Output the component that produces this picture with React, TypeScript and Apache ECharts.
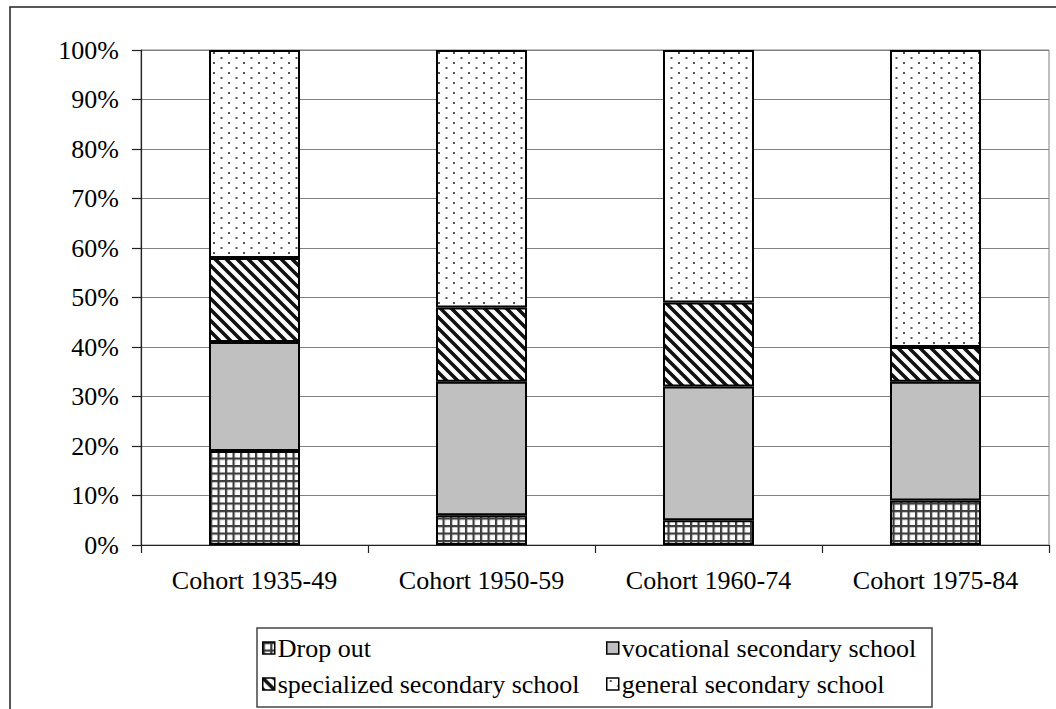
import React, { useEffect, useRef } from "react";
import * as echarts from "echarts";

const categories = ["Cohort 1935-49", "Cohort 1950-59", "Cohort 1960-74", "Cohort 1975-84"];
const dropOut = [19, 6, 5, 9];
const vocational = [22, 27, 27, 24];
const specialized = [17, 15, 17, 7];
const general = [42, 52, 51, 60];
const seriesNames = [
  "Drop out",
  "vocational secondary school",
  "specialized secondary school",
  "general secondary school",
];
const yTicks = [0, 10, 20, 30, 40, 50, 60, 70, 80, 90, 100];

const FONT = "Liberation Serif";

const svgUrl = (s: string) => "data:image/svg+xml;charset=utf-8," + encodeURIComponent(s);

const gridPattern = {
  image: svgUrl(
    "<svg xmlns='http://www.w3.org/2000/svg' width='7.5' height='7.5'><rect width='7.5' height='7.5' fill='#ffffff'/><rect x='0' y='0' width='7.5' height='2.2' fill='#3c3c3c'/><rect x='0' y='0' width='2.2' height='7.5' fill='#3c3c3c'/></svg>"
  ),
  imageWidth: 7.5,
  imageHeight: 7.5,
  repeat: "repeat",
};

const stripePattern = {
  image: svgUrl(
    "<svg xmlns='http://www.w3.org/2000/svg' width='11' height='11'><rect width='11' height='11' fill='#ffffff'/><path d='M-3,-3 L14,14 M-3,8 L3,14 M8,-3 L14,3' stroke='#111111' stroke-width='3.6' fill='none'/></svg>"
  ),
  imageWidth: 11,
  imageHeight: 11,
  repeat: "repeat",
};

const dotPattern = {
  image: svgUrl(
    "<svg xmlns='http://www.w3.org/2000/svg' width='15' height='10'><rect width='15' height='10' fill='#ffffff'/><rect x='3' y='2' width='2' height='2' fill='#555555'/><rect x='10.5' y='7' width='2' height='2' fill='#555555'/></svg>"
  ),
  imageWidth: 15,
  imageHeight: 10,
  repeat: "repeat",
};

const fills: any[] = [gridPattern, "#c0c0c0", stripePattern, dotPattern];
const values = [dropOut, vocational, specialized, general];

export default function App() {
  const ref = useRef<HTMLDivElement>(null);
  useEffect(() => {
    if (!ref.current) return;
    const chart = echarts.init(ref.current, undefined, { renderer: "svg" });
    const legendCommon = {
      orient: "vertical" as const,
      itemWidth: 12,
      itemHeight: 12,
      itemGap: 10,
      icon: "rect",
      selectedMode: false,
      textStyle: { fontFamily: FONT, fontSize: 26, color: "#000", padding: [0, 0, 0, -2] },
      itemStyle: { borderColor: "#000", borderWidth: 1.5 },
      padding: 0,
    };
    chart.setOption({
      animation: false,
      backgroundColor: "#ffffff",
      grid: {
        left: 141,
        top: 50,
        right: 7,
        bottom: 164,
        show: true,
        borderColor: "#808080",
        borderWidth: 1,
      },
      xAxis: {
        type: "category",
        data: categories,
        axisLine: { lineStyle: { color: "#222", width: 1.2 } },
        axisTick: { show: true, length: 8, lineStyle: { color: "#222", width: 1.2 } },
        axisLabel: { fontFamily: FONT, fontSize: 26, color: "#000", margin: 22 },
      },
      yAxis: {
        type: "value",
        min: yTicks[0],
        max: yTicks[yTicks.length - 1],
        interval: 10,
        axisLine: { show: true, lineStyle: { color: "#222", width: 1.2 } },
        axisTick: { show: true, length: 9, lineStyle: { color: "#222", width: 1.2 } },
        axisLabel: { fontFamily: FONT, fontSize: 26, color: "#000", margin: 22, formatter: "{value}%" },
        splitLine: { show: true, lineStyle: { color: "#808080", width: 1 } },
      },
      legend: [
        { ...legendCommon, left: 262, top: 635, data: [seriesNames[0], seriesNames[2]] },
        { ...legendCommon, left: 606, top: 635, data: [seriesNames[1], seriesNames[3]] },
      ],
      graphic: [
        {
          type: "rect",
          shape: { x: 10, y: 7, width: 1100, height: 800 },
          style: { fill: "none", stroke: "#222", lineWidth: 1.5 },
          silent: true,
        },
        {
          type: "rect",
          shape: { x: 257, y: 628, width: 675, height: 79 },
          style: { fill: "none", stroke: "#444", lineWidth: 1.5 },
          silent: true,
        },
      ],
      series: seriesNames.map((name, i) => ({
        name,
        type: "bar",
        stack: "total",
        barWidth: 91,
        data: values[i],
        itemStyle: { color: fills[i], borderColor: "#000", borderWidth: 2 },
      })),
    });
    return () => chart.dispose();
  }, []);
  return (
    <div
      ref={ref}
      style={{ position: "absolute", left: 0, top: 0, width: 1056, height: 709 }}
    />
  );
}
